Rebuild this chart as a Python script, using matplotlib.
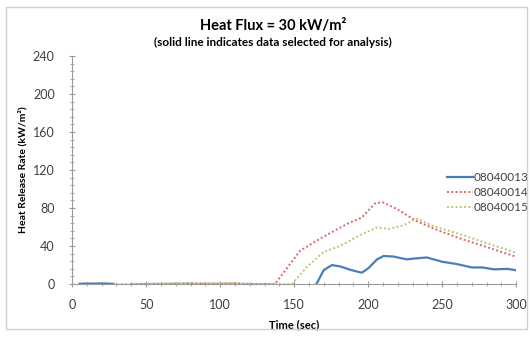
# Heat release rate curves at 30 kW/m2 heat flux for three cone tests.
import matplotlib.pyplot as plt
from matplotlib.ticker import MultipleLocator
from matplotlib.patches import Rectangle

plt.rcParams["font.family"] = ["Lato", "DejaVu Sans"]

# 08040013 (selected for analysis, solid)
t_13 = [0, 5, 10, 15, 20, 25, 28, 165, 170, 175.5, 181, 188, 195.7, 200, 206, 210.4,
        217, 226, 232, 239.6, 250, 260, 270, 277, 285, 294, 300]
hrr_13 = [None, 0.3, 0.6, 0.5, 0.7, 0.4, 0.2, 0, 14.7, 20, 18.6, 15, 12, 16.5, 26, 29.5,
          29, 26, 27, 28, 23.5, 21, 17.5, 17.5, 15.5, 16, 14.5]

# 08040014 (dotted red)
t_14 = [40, 60, 80, 100, 110, 120, 130, 137, 154, 164, 170, 186.7, 195.7, 204.7, 210,
        216, 221.6, 231.8, 244, 262, 280, 300]
hrr_14 = [0, 0.3, 0.8, 0.5, 0.9, 0.2, 0, 0, 35, 44.5, 50, 64, 70, 85, 86,
          81.5, 77, 67, 58.5, 48, 39, 28.7]

# 08040015 (dotted green)
t_15 = [30, 50, 70, 90, 105, 115, 130, 148.5, 158.6, 170, 181, 194.6, 206, 214, 224,
        233, 244, 262, 280, 300]
hrr_15 = [0, 0.4, 1.0, 0.6, 1.2, 0.3, 0, 0, 18, 34, 40, 51.6, 59.6, 58, 62,
          69, 61, 52.6, 43, 33]

fig = plt.figure(figsize=(5.3, 3.39), dpi=100)
fig.patches.append(Rectangle((0.012, 0.03), 0.982, 0.95, transform=fig.transFigure,
                             fill=False, edgecolor="#d0d0d0", linewidth=1.0))
ax = fig.add_axes([0.136, 0.162, 0.838, 0.673])

# split the blue series at the gap (None) so the early noise is its own piece
ax.plot(t_13[1:7], hrr_13[1:7], color="#4a7ebb", linewidth=1.6)
ax.plot(t_13[7:], hrr_13[7:], color="#4a7ebb", linewidth=1.6, label="08040013")
ax.plot(t_14, hrr_14, color="#d9686a", linewidth=1.4, linestyle=(0, (1, 1.2)),
        label="08040014")
ax.plot(t_15, hrr_15, color="#b5c97a", linewidth=1.4, linestyle=(0, (1, 1.2)),
        label="08040015")

ax.set_xlim(0, 300)
ax.set_ylim(0, 240)
ax.xaxis.set_major_locator(MultipleLocator(50))
ax.xaxis.set_minor_locator(MultipleLocator(10))
ax.yaxis.set_major_locator(MultipleLocator(40))
ax.yaxis.set_minor_locator(MultipleLocator(8))
ax.tick_params(axis="both", which="both", direction="inout", color="#9a9a9a",
               labelsize=9, labelcolor="#404040")
ax.tick_params(which="major", length=5)
ax.tick_params(which="minor", length=3)
ax.tick_params(axis="x", pad=8)
ax.tick_params(axis="y", pad=10)

for side in ["top", "right"]:
    ax.spines[side].set_visible(False)
for side in ["left", "bottom"]:
    ax.spines[side].set_color("#9a9a9a")

ax.set_xlabel("Time (sec)", fontsize=8, fontweight="bold", labelpad=6)
ax.set_ylabel("Heat Release Rate (kW/m²)", fontsize=7.5, fontweight="bold", labelpad=4)

fig.text(0.515, 0.912, "Heat Flux = 30 kW/m²", ha="center", fontsize=10.5,
         fontweight="bold")
fig.text(0.515, 0.865, "(solid line indicates data selected for analysis)",
         ha="center", fontsize=8.5, fontweight="bold")

ax.legend(loc="center left", bbox_to_anchor=(0.82, 0.40), frameon=False, fontsize=8.5,
          handlelength=2.2, handletextpad=0.1, labelspacing=0.35,
          labelcolor="#404040")

fig.savefig("out.png", dpi=100)
